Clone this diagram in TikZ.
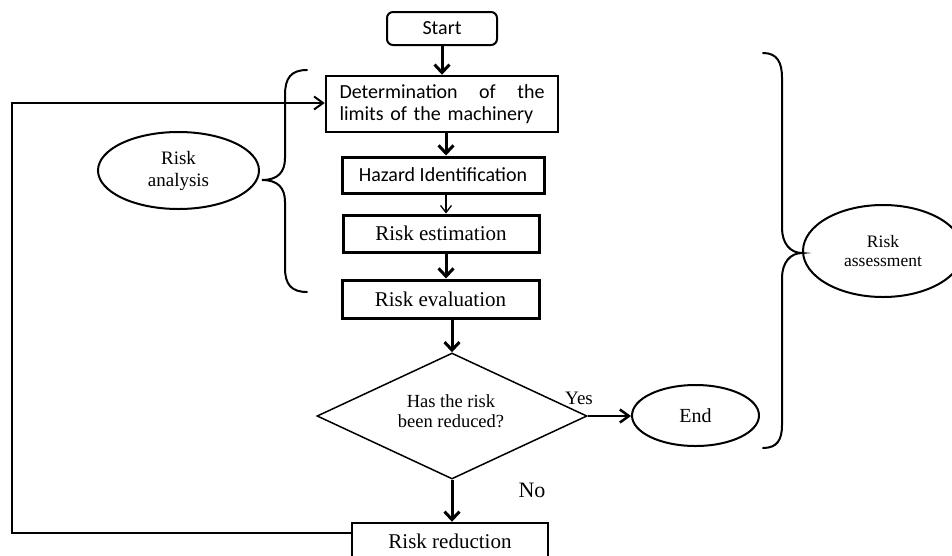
\documentclass[tikz,border=0pt]{standalone}
\usepackage{fontspec}
\setmainfont{Liberation Serif}
\newfontfamily\calfont{Carlito}
\usetikzlibrary{shapes.geometric,arrows.meta,calc}
\begin{document}
\begin{tikzpicture}[x=1pt,y=-1pt,
  box/.style={draw, line width=3pt, rectangle, inner sep=0pt, font=\fontsize{21}{24}\selectfont},
  calbox/.style={draw, rectangle, inner sep=0pt, font=\calfont\fontsize{20}{22}\selectfont},
  oval/.style={draw, ellipse, line width=2pt, inner sep=0pt, align=center},
  thickarrow/.style={line width=3pt, -{Straight Barb[length=8pt,width=15pt]}},
  thinarrow/.style={line width=1.3pt, -{Straight Barb[length=7pt,width=11pt]}},
  midarrow/.style={line width=2pt, -{Straight Barb[length=9pt,width=13pt]}},
  bracestyle/.style={line width=2pt, line cap=round}
]
\useasboundingbox (0,0) rectangle (952,555);

% process boxes
\node[calbox, line width=2pt, rounded corners=6pt, minimum width=110pt, minimum height=33pt] (start) at (442,28.5) {Start};
\node[calbox, line width=2.5pt, minimum width=232pt, minimum height=56pt, text width=205pt, align=left] (det) at (442,104)
  {\makebox[205pt][l]{Determination\hfill of\hfill the}\\limits of the machinery};
\node[calbox, line width=3pt, minimum width=202pt, minimum height=36pt] (haz) at (443,175) {Hazard Identification};
\node[box, minimum width=196pt, minimum height=37pt] (est) at (441,233.5) {Risk estimation};
\node[box, minimum width=197pt, minimum height=38pt] (eval) at (440.5,299) {Risk evaluation};
\node[draw, diamond, line width=1.5pt, minimum width=270pt, minimum height=126pt, aspect=2.14, inner sep=0pt] (dec) at (452,416) {};
\node[align=center, inner sep=0pt, font=\fontsize{18.5}{20}\selectfont] (dectxt) at (451,411) {Has the risk\\been reduced?};
\node[oval, minimum width=127pt, minimum height=61pt, font=\fontsize{20}{22}\selectfont] (end) at (695.5,415.5) {End};
\node[box, line width=2.5pt, minimum width=196pt, minimum height=36pt] (red) at (450,541) {Risk reduction};

% side ovals
\node[oval, minimum width=161pt, minimum height=77pt, font=\fontsize{19}{22}\selectfont] (ana) at (178.5,170.5) {Risk\\analysis};
\node[oval, minimum width=160pt, minimum height=92pt, font=\fontsize{17.5}{19}\selectfont] (ass) at (883,251) {Risk\\assessment};

% labels
\node[inner sep=0pt, font=\fontsize{19}{22}\selectfont] (yes) at (579,398) {Yes};
\node[inner sep=0pt, font=\fontsize{22}{24}\selectfont] (no) at (532,490) {No};

% connectors
\draw[thickarrow] (start) -- (det);
\draw[thickarrow] ([xshift=4pt]det.south) -- ([xshift=4pt]det.south |- haz.north);
\draw[thinarrow] ([xshift=3pt]haz.south) -- ([xshift=3pt]haz.south |- est.north);
\draw[thickarrow] ([xshift=5pt]est.south) -- ([xshift=5pt]est.south |- eval.north);
\draw[thickarrow] (eval.south -| dec.north) -- (dec.north);
\draw[line width=2.5pt, -{Straight Barb[length=9pt,width=13pt]}] (dec.east) -- (dec.east -| end.west);
\draw[thickarrow] (dec.south) -- (dec.south |- red.north);
\coordinate (corner) at (12,103);
\draw[midarrow] ([yshift=8pt]red.west) -| (corner) -- (corner -| det.west);

% braces
\coordinate (tipL) at (262,180);
\draw[bracestyle] (307,70) .. controls (291,70) and (285,78) .. (285,95) -- (285,158)
  .. controls (285,172) and (278,180) .. (tipL)
  .. controls (278,180) and (285,188) .. (285,202) -- (285,268)
  .. controls (285,284) and (291,292) .. (307,292);
\coordinate (tipR) at (802,253);
\draw[bracestyle] (763,53) .. controls (777,53) and (782,62) .. (782,78) -- (782,228)
  .. controls (782,243) and (790,253) .. (tipR)
  .. controls (790,253) and (782,263) .. (782,278) -- (782,425)
  .. controls (782,440) and (777,448) .. (763,448);
\end{tikzpicture}
\end{document}
